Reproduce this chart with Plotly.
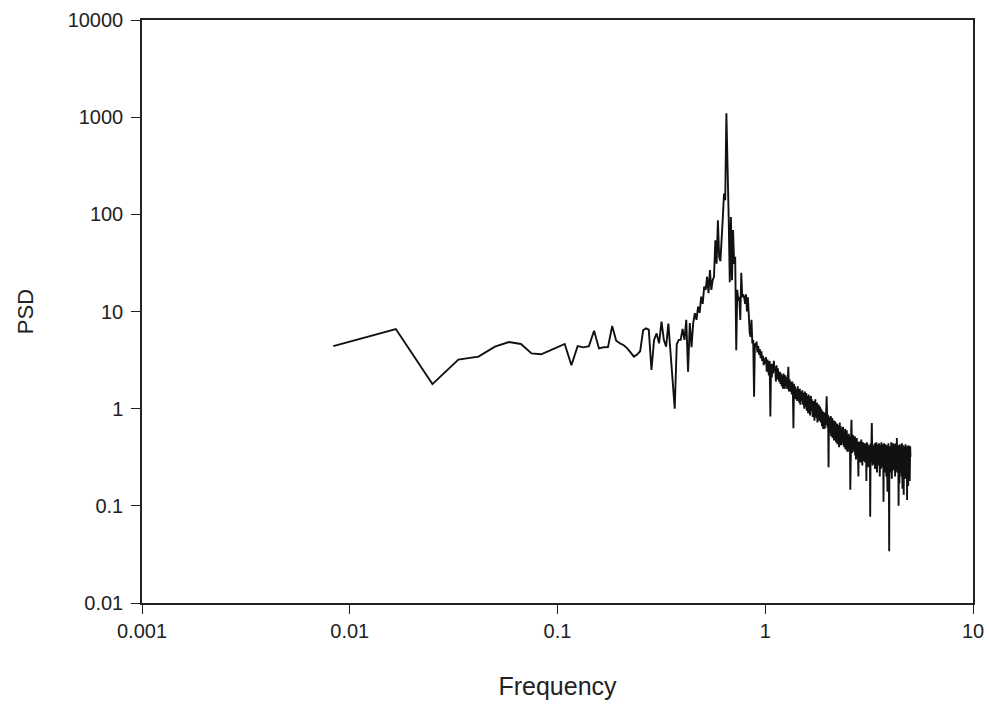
import plotly.graph_objects as go

# Spectrum sampled on a uniform frequency grid (bin width 1/120 Hz)
df = 1.0 / 120

# PSD estimates, low-frequency part (bins 1-50)
psd_low = [
    4.4, 6.6, 1.79, 3.2, 3.43, 4.34, 4.85, 4.63, 3.71, 3.63,
    3.95, 4.28, 4.63, 2.8, 4.4, 4.28, 4.4, 6.34, 4.17, 4.28,
    4.3, 7.1, 5.0, 4.7, 4.5, 4.18, 3.8, 3.43, 3.6, 3.9,
    6.4, 6.7, 6.5, 2.5, 5.1, 5.95, 4.7, 7.85, 5.1, 4.34,
    7.5, 4.0, 2.13, 1.0, 4.6, 5.1, 5.1, 6.6, 5.1, 8.2,
]

# Resonance region around 0.65 Hz (bins 51-108)
psd_peak = [
    2.4, 7.6, 4.3, 7.6, 9.6, 8.2, 11.2, 9.7, 14.2, 12.0,
    18.0, 16.7, 22.8, 15.4, 26.7, 16.7, 21.0, 22.8, 54.0, 31.0,
    87.0, 36.6, 33.0, 69.0, 94.0, 164.0, 140.0, 1095.0, 392.0, 94.0,
    20.0, 94.0, 21.0, 69.0, 31.0, 36.6, 4.0, 16.7, 13.0, 14.2,
    8.2, 25.0, 14.0, 15.0, 14.0, 12.0, 15.0, 10.0, 14.0, 7.6,
    6.0, 5.5, 8.2, 4.7, 5.1, 1.33, 4.7, 4.3,
]

# High-frequency tail (bins 109-600)
psd_tail = [
    4.9, 3.8, 4.4, 3.6, 4.1, 3.3, 3.9, 3.1, 3.5, 2.8, 3.3, 2.9,
    3.4, 2.4, 3.2, 2.5, 2.2, 3.1, 0.83, 2.9, 2.1, 2.9, 2.3, 3.1, 2.4, 2.7, 1.9, 2.8, 2.0, 2.6, 2.3, 1.9,
    2.4, 1.8, 2.3, 1.7, 2.2, 1.6, 2.3, 1.9, 1.6, 2.2, 1.7, 2.1, 1.6, 2.0, 2.7, 1.5, 2.0, 1.7, 1.5, 1.9,
    1.4, 1.9, 1.5, 0.63, 1.8, 1.3, 1.7, 1.25, 1.6, 1.45, 1.2, 1.7, 1.3, 1.55, 1.15, 1.6, 1.1, 1.5, 1.3, 1.2,
    1.55, 1.1, 1.45, 1.2, 1.0, 1.5, 1.15, 1.05, 1.45, 0.95, 1.35, 1.1, 0.9, 1.4, 1.05, 1.3, 0.85, 1.25, 1.35, 0.95,
    1.25, 0.95, 0.82, 1.2, 0.9, 1.15, 0.75, 1.1, 1.25, 0.85, 1.05, 0.8, 1.15, 0.72, 1.05, 0.85, 1.1, 0.75, 0.98, 1.05,
    0.85, 0.72, 1.0, 0.78, 0.66, 0.95, 0.74, 0.62, 0.92, 0.7, 0.88, 0.62, 0.9, 0.68, 0.82, 1.0, 1.34, 0.9, 0.64, 0.86,
    0.84, 0.25, 0.66, 0.82, 0.56, 0.76, 0.6, 0.84, 0.52, 0.74, 0.58, 0.8, 0.5, 0.72, 0.56, 0.76, 0.47, 0.7, 0.55, 0.74,
    0.52, 0.72, 0.45, 0.68, 0.5, 0.7, 0.43, 0.62, 0.68, 0.46, 0.64, 0.4, 0.6, 0.72, 0.44, 0.58, 0.66, 0.42, 0.62, 0.48,
    0.6, 0.45, 0.56, 0.65, 0.42, 0.52, 0.58, 0.4, 0.55, 0.5, 0.62, 0.38, 0.5, 0.56, 0.44, 0.6, 0.48, 0.36, 0.52, 0.46,
    0.5, 0.4, 0.55, 0.44, 0.36, 0.52, 0.45, 0.146, 0.5, 0.42, 0.58, 0.77, 0.48, 0.35, 0.5, 0.42, 0.54, 0.38, 0.46, 0.4,
    0.48, 0.36, 0.44, 0.52, 0.33, 0.42, 0.47, 0.3, 0.45, 0.4, 0.5, 0.32, 0.43, 0.38, 0.46, 0.28, 0.2, 0.42, 0.36, 0.45,
    0.3, 0.42, 0.35, 0.46, 0.28, 0.4, 0.34, 0.48, 0.3, 0.38, 0.44, 0.26, 0.4, 0.36, 0.45, 0.29, 0.37, 0.42, 0.32, 0.4,
    0.34, 0.44, 0.28, 0.38, 0.42, 0.3, 0.4, 0.18, 0.36, 0.45, 0.27, 0.38, 0.33, 0.43, 0.25, 0.37, 0.41, 0.3, 0.36, 0.4,
    0.32, 0.42, 0.3, 0.077, 0.38, 0.44, 0.28, 0.36, 0.4, 0.5, 0.71, 0.45, 0.3, 0.38, 0.26, 0.42, 0.34, 0.29, 0.4, 0.35,
    0.27, 0.4, 0.33, 0.44, 0.24, 0.36, 0.3, 0.42, 0.26, 0.38, 0.45, 0.29, 0.35, 0.22, 0.4, 0.32, 0.43, 0.27, 0.37, 0.31,
    0.41, 0.26, 0.34, 0.44, 0.28, 0.38, 0.2, 0.33, 0.42, 0.3, 0.36, 0.24, 0.4, 0.32, 0.45, 0.27, 0.35, 0.3, 0.43, 0.25,
    0.38, 0.3, 0.42, 0.27, 0.11, 0.36, 0.31, 0.44, 0.25, 0.34, 0.4, 0.22, 0.37, 0.29, 0.43, 0.26, 0.33, 0.39, 0.2, 0.35,
    0.3, 0.42, 0.26, 0.37, 0.14, 0.33, 0.4, 0.24, 0.35, 0.44, 0.28, 0.32, 0.18, 0.034, 0.3, 0.39, 0.25, 0.36, 0.41, 0.27,
    0.34, 0.22, 0.4, 0.3, 0.45, 0.26, 0.36, 0.19, 0.33, 0.42, 0.28, 0.38, 0.23, 0.35, 0.44, 0.3, 0.26, 0.4, 0.33, 0.24,
    0.38, 0.3, 0.43, 0.25, 0.35, 0.2, 0.4, 0.32, 0.27, 0.44, 0.23, 0.36, 0.31, 0.41, 0.26, 0.5, 0.34, 0.22, 0.39, 0.3,
    0.36, 0.25, 0.42, 0.3, 0.21, 0.1, 0.33, 0.4, 0.27, 0.37, 0.17, 0.31, 0.43, 0.26, 0.35, 0.29, 0.41, 0.22, 0.34, 0.38,
    0.26, 0.4, 0.31, 0.2, 0.37, 0.44, 0.28, 0.33, 0.15, 0.36, 0.3, 0.42, 0.24, 0.34, 0.39, 0.27, 0.13, 0.32, 0.41, 0.29,
    0.35, 0.23, 0.4, 0.3, 0.37, 0.19, 0.33, 0.43, 0.27, 0.36, 0.31, 0.22, 0.39, 0.29, 0.34, 0.41, 0.25, 0.115, 0.32, 0.38,
    0.28, 0.4, 0.24, 0.35, 0.16, 0.31, 0.42, 0.27, 0.37, 0.21, 0.33, 0.39, 0.26, 0.36, 0.18, 0.34, 0.3, 0.41, 0.28, 0.32,
]

psd = psd_low + psd_peak + psd_tail
freq = [(k + 1) * df for k in range(len(psd))]

x_ticks = [0.001, 0.01, 0.1, 1, 10]
x_labels = ["0.001", "0.01", "0.1", "1", "10"]
y_ticks = [0.01, 0.1, 1, 10, 100, 1000, 10000]
y_labels = ["0.01", "0.1", "1", "10", "100", "1000", "10000"]

FONT = "Liberation Sans, Arial, sans-serif"

fig = go.Figure(
    go.Scatter(
        x=freq, y=psd, mode="lines",
        line=dict(color="#111111", width=1.9),
        showlegend=False,
    )
)

axis_common = dict(
    type="log",
    showgrid=False,
    zeroline=False,
    showline=True,
    linecolor="#222222",
    linewidth=1.5,
    mirror=True,
    ticks="outside",
    ticklen=9,
    tickwidth=1.2,
    tickcolor="#222222",
    automargin=False,
    tickfont=dict(family=FONT, size=20, color="#222222"),
)

fig.update_layout(
    width=989, height=704,
    margin=dict(l=142, r=16, t=20, b=101),
    paper_bgcolor="white",
    plot_bgcolor="white",
    xaxis=dict(
        **axis_common,
        range=[-3, 1],
        tickvals=x_ticks, ticktext=x_labels,
        title=dict(text="Frequency", standoff=37,
                   font=dict(family=FONT, size=25, color="#222222")),
    ),
    yaxis=dict(
        **axis_common,
        range=[-2, 4],
        tickvals=y_ticks, ticktext=y_labels,
        ticklabelstandoff=4,
        title=dict(text="PSD", standoff=28,
                   font=dict(family=FONT, size=22, color="#222222")),
    ),
)

fig.write_html("out.html")
